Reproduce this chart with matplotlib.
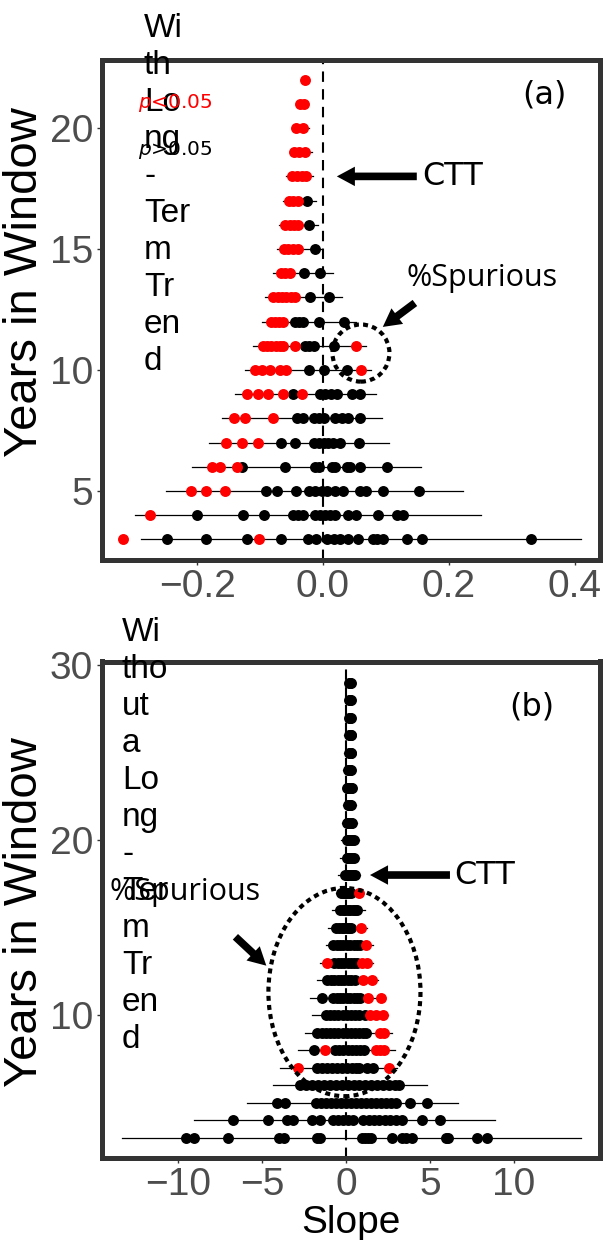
import matplotlib
matplotlib.use('Agg')
import matplotlib.pyplot as plt
from matplotlib.patches import Ellipse

# ---------------- Panel (a) data: With Long-Term Trend ----------------
years_a = list(range(3, 23))
a_red = [
    [-0.318, -0.102],
    [-0.275],
    [-0.210, -0.186, -0.156],
    [-0.177, -0.163, -0.137],
    [-0.154, -0.129, -0.103],
    [-0.142, -0.124, -0.079],
    [-0.121, -0.103, -0.087, -0.063, -0.034],
    [-0.108, -0.097, -0.084, -0.068, -0.058, 0.061],
    [-0.096, -0.089, -0.082, -0.075, -0.068, -0.063, -0.044, 0.052],
    [-0.083, -0.077, -0.070, -0.064],
    [-0.079, -0.072, -0.065, -0.058, -0.051, -0.045],
    [-0.067, -0.060, -0.053],
    [-0.062, -0.055, -0.048, -0.040],
    [-0.060, -0.053, -0.046, -0.040],
    [-0.054, -0.047, -0.040],
    [-0.050, -0.042, -0.034, -0.027],
    [-0.046, -0.038, -0.029],
    [-0.043, -0.032],
    [-0.036, -0.030],
    [-0.028],
]
a_black = [
    [-0.247, -0.186, -0.120, -0.067, -0.024, -0.011, 0.007, 0.018, 0.027, 0.040, 0.056, 0.079, 0.086, 0.096, 0.133, 0.157, 0.331],
    [-0.200, -0.127, -0.094, -0.048, -0.040, -0.032, -0.013, -0.005, 0.003, 0.011, 0.019, 0.040, 0.053, 0.087, 0.117, 0.127],
    [-0.091, -0.073, -0.043, -0.022, -0.013, -0.002, 0.006, 0.019, 0.032, 0.059, 0.069, 0.096, 0.153],
    [-0.129, -0.060, -0.013, -0.007, 0.014, 0.019, 0.038, 0.043, 0.059, 0.101],
    [-0.066, -0.044, -0.015, -0.007, 0.001, 0.008, 0.016, 0.027, 0.058],
    [-0.042, -0.031, -0.015, -0.007, 0.001, 0.019, 0.030, 0.040, 0.059],
    [-0.048, -0.005, 0.003, 0.012, 0.022, 0.046, 0.059],
    [-0.022, 0.002, 0.038],
    [-0.029, -0.022, -0.015, 0.018],
    [-0.044, -0.038, -0.032, -0.007, 0.033],
    [-0.020, 0.010],
    [-0.030, -0.004],
    [-0.013],
    [-0.023],
    [-0.026],
    [], [], [], [], [],
]
a_lo = [-0.289, -0.298, -0.250, -0.208, -0.181, -0.161, -0.140, -0.124, -0.111, -0.097,
        -0.092, -0.079, -0.073, -0.070, -0.064, -0.059, -0.052, -0.048, -0.042, -0.032]
a_hi = [0.410, 0.251, 0.223, 0.156, 0.105, 0.093, 0.085, 0.077, 0.069, 0.052,
        0.030, 0.016, -0.002, -0.008, -0.011, -0.016, -0.018, -0.022, -0.025, -0.025]

# ---------------- Panel (b) data: Without a Long-Term Trend ----------------
years_b = list(range(3, 30))
b_black = [
    [-9.52, -9.05, -7.0, -4.0, -3.7, -1.75, -1.55, 0.98, 1.15, 1.3, 1.49, 2.72, 3.31, 3.6, 3.91, 5.95, 6.1, 7.78, 8.37],
    [-6.71, -4.62, -3.53, -3.13, -2.04, -1.55, -0.75, -0.45, -0.15, 0.15, 0.44, 1.03, 1.35, 1.65, 1.95, 2.3, 2.65, 3.0, 3.31, 4.5, 5.6],
    [-4.13, -3.63, -1.8, -1.5, -1.2, -0.9, -0.6, -0.3, 0.0, 0.3, 0.6, 0.9, 1.2, 1.5, 1.8, 2.1, 2.4, 2.7, 3.0, 3.81, 4.8],
    [-2.71, -2.35, -2.0, -1.65, -1.3, -0.95, -0.6, -0.25, 0.1, 0.45, 0.8, 1.15, 1.5, 1.85, 2.2, 2.55, 2.9, 3.18],
    [-1.73, -1.45, -1.15, -0.85, -0.55, -0.25, 0.05, 0.35, 0.6, 0.8, 1.25, 1.6],
    [-1.9, -0.63, -0.4, -0.15, 0.1, 0.35, 0.6, 0.85, 1.1],
    [-1.71, -1.45, -1.2, -0.95, -0.7, -0.45, -0.2, 0.05, 0.3, 0.55, 0.8, 1.0, 1.19],
    [-1.19, -0.95, -0.7, -0.45, -0.2, 0.05, 0.3, 0.55, 0.8, 1.13],
    [-1.45, -0.77, -0.55, -0.35, -0.15, 0.05, 0.25, 0.45, 0.65, 0.83],
    [-1.11, -0.9, -0.7, -0.5, -0.3, -0.1, 0.1, 0.3, 0.54],
    [-0.71, -0.5, -0.3, -0.1, 0.1, 0.3, 0.5, 0.64],
    [-0.75, -0.55, -0.35, -0.15, 0.05, 0.25, 0.45, 0.65, 0.83],
    [-0.57, -0.4, -0.25, -0.1, 0.05, 0.2, 0.3],
    [-0.37, -0.2, -0.05, 0.1, 0.25, 0.4, 0.52, 0.65],
    [-0.27, -0.15, -0.03, 0.09, 0.2, 0.30],
    [-0.03, 0.08, 0.2, 0.32, 0.44, 0.55],
    [0.07, 0.15, 0.25, 0.38, 0.50],
    [0.07, 0.15, 0.25, 0.35, 0.46],
    [0.07, 0.15, 0.22, 0.29, 0.36],
    [0.10, 0.18, 0.25, 0.32],
    [0.07, 0.15, 0.22, 0.29, 0.35],
    [0.10, 0.18, 0.25, 0.31],
    [0.16, 0.22, 0.28, 0.32],
    [0.16, 0.22, 0.28, 0.32],
    [0.18, 0.24, 0.30],
    [0.18, 0.24, 0.30],
    [0.20, 0.24, 0.28],
]
b_red = [
    [], [], [], [],
    [-2.84, 2.58],
    [-1.25, 1.76, 2.02, 2.29],
    [2.0, 2.25],
    [1.43, 1.79, 2.18],
    [1.33, 2.06],
    [1.03, 1.53],
    [-1.11, 0.95, 1.25],
    [1.19],
    [0.91],
    [],
    [0.75],
    [], [], [], [], [], [], [], [], [], [], [], [],
]
b_lo = [-13.3, -9.03, -5.91, -4.33, -3.93, -2.84, -2.44, -2.04, -2.14, -1.74, -1.55, -1.19, -1.05,
        -0.85, -0.6, -0.45, -0.35, -0.3, -0.25, -0.2, -0.2, -0.15, -0.1, -0.1, -0.05, 0.0, 0.0]
b_hi = [14.0, 8.87, 6.69, 4.8, 3.02, 2.92, 2.72, 2.5, 2.32, 1.93, 1.63, 1.59, 1.23,
        1.13, 1.0, 0.85, 0.8, 0.75, 0.65, 0.6, 0.6, 0.55, 0.55, 0.5, 0.5, 0.45, 0.45]

RED = '#FF0000'
FRAME = '#333333'
TICKC = '#4D4D4D'
MS = 62

fig = plt.figure(figsize=(6.05, 12.4), dpi=100)
W, H = 605.0, 1240.0


def add_axes_px(left, top, right, bottom):
    return fig.add_axes([left / W, 1 - bottom / H, (right - left) / W, (bottom - top) / H])


def style(ax):
    for s in ax.spines.values():
        s.set_color(FRAME)
        s.set_linewidth(3.6)
    ax.tick_params(axis='both', colors=FRAME, labelcolor=TICKC, labelsize=28,
                   length=3.5, width=1.0, direction='out', pad=3)
    for lab in ax.get_xticklabels() + ax.get_yticklabels():
        lab.set_fontfamily('Liberation Sans')


def draw_panel(ax, years, blacks, reds, lo, hi):
    for y, l, h in zip(years, lo, hi):
        ax.plot([l, h], [y, y], color='black', lw=0.9, zorder=2)
    ax.axvline(0, color='black', lw=1.5, ls=(0, (5, 3.5)), zorder=1)
    for y, xs in zip(years, blacks):
        if xs:
            ax.scatter(xs, [y] * len(xs), s=MS, color='black', zorder=3, linewidths=0)
    for y, xs in zip(years, reds):
        if xs:
            ax.scatter(xs, [y] * len(xs), s=MS, color=RED, zorder=4, linewidths=0)


def big_arrow(ax, tip, tail):
    ax.annotate('', xy=tip, xytext=tail,
                arrowprops=dict(arrowstyle='simple,head_length=13,head_width=14,tail_width=5.5',
                                mutation_scale=1, color='black', lw=0, shrinkA=0, shrinkB=0),
                zorder=6)


# ---------------- Panel (a) ----------------
axa = add_axes_px(102, 59.5, 600, 559.5)
draw_panel(axa, years_a, a_black, a_red, a_lo, a_hi)
axa.set_xlim(-0.351, 0.440)
axa.set_ylim(2.17, 22.83)
axa.set_xticks([-0.2, 0.0, 0.2, 0.4])
axa.set_xticklabels(['\u22120.2', '0.0', '0.2', '0.4'])
axa.set_yticks([5, 10, 15, 20])
style(axa)
axa.set_ylabel('Years in Window', fontsize=34, family='Liberation Sans', color='black')
axa.yaxis.set_label_coords(-0.110, 0.555)
axa.add_patch(Ellipse((0.0603, 10.70), 0.0905, 2.36, fill=False, ls=(0, (1.2, 1.0)),
                      lw=3, ec='black', zorder=5))
big_arrow(axa, (0.022, 18.0), (0.149, 18.0))
axa.text(0.157, 18.0, 'CTT', fontsize=23, family='DejaVu Sans', va='center', ha='left')
big_arrow(axa, (0.095, 11.78), (0.146, 12.77))
axa.text(0.133, 13.8, '%Spurious', fontsize=22, family='Open Sans', va='center', ha='left')
axa.text(0.352, 21.36, '(a)', fontsize=23, family='DejaVu Sans', va='center', ha='center')

# ---------------- Panel (b) ----------------
axb = add_axes_px(102, 661.5, 600, 1157.5)
draw_panel(axb, years_b, b_black, b_red, b_lo, b_hi)
axb.set_xlim(-14.52, 15.12)
axb.set_ylim(1.86, 30.2)
axb.set_xticks([-10, -5, 0, 5, 10])
axb.set_xticklabels(['\u221210', '\u22125', '0', '5', '10'])
axb.set_yticks([10, 20, 30])
style(axb)
axb.set_ylabel('Years in Window', fontsize=34, family='Liberation Sans', color='black')
axb.yaxis.set_label_coords(-0.110, 0.495)
axb.set_xlabel('Slope', fontsize=28, family='Liberation Sans', color='black', labelpad=2)
axb.add_patch(Ellipse((-0.09, 11.31), 9.05, 11.9, fill=False, ls=(0, (1.2, 1.0)),
                      lw=3, ec='black', zorder=5))
big_arrow(axb, (1.43, 18.0), (6.19, 18.0))
axb.text(6.43, 18.0, 'CTT', fontsize=23, family='DejaVu Sans', va='center', ha='left')
big_arrow(axb, (-4.74, 12.82), (-6.58, 14.47))
axb.text(-14.1, 17.05, '%Spurious', fontsize=22, family='Open Sans', va='center', ha='left')
axb.text(11.04, 27.6, '(b)', fontsize=23, family='DejaVu Sans', va='center', ha='center')

# ---------------- wrapped titles & legend ----------------
fig.text(144 / W, 1 - 13 / H, 'Wi\nth\nLo\nng\n-\nTer\nm\nTr\nen\nd', fontsize=24,
         family='Liberation Sans', va='top', ha='left', linespacing=1.25)
fig.text(122 / W, 1 - 617 / H, 'Wi\ntho\nut\na\nLo\nng\n-\nTer\nm\nTr\nen\nd', fontsize=24,
         family='Liberation Sans', va='top', ha='left', linespacing=1.25)
fig.text(138 / W, 1 - 103 / H, r'$p$<0.05', fontsize=14.5, family='DejaVu Sans', color=RED,
         va='center', ha='left')
fig.text(138 / W, 1 - 150 / H, r'$p$>0.05', fontsize=14.5, family='DejaVu Sans', color='black',
         va='center', ha='left')

fig.savefig('out.png', dpi=100)
